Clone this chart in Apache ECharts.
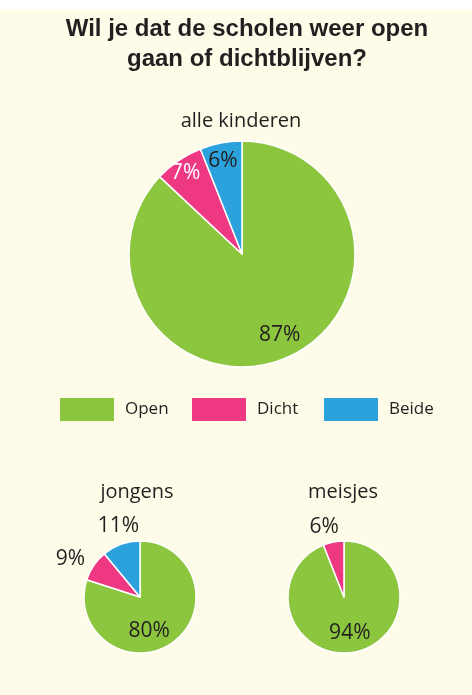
<!DOCTYPE html>
<html>
<head>
<meta charset="utf-8">
<script src="https://cdn.jsdelivr.net/npm/echarts@6/dist/echarts.min.js"></script>
<style>
  html, body { margin: 0; padding: 0; background: #ffffff; }
  #chart { width: 472px; height: 695px; }
</style>
</head>
<body>
<div id="chart"></div>
<script>
// data
var categories = ['Open', 'Dicht', 'Beide'];
var alleKinderen = [87, 7, 6];
var jongens = [80, 9, 11];
var meisjes = [94, 6, 0];

var colorMap = { Open: '#8cc63f', Dicht: '#ef3882', Beide: '#2ca2dc' };
var textColor = '#231f20';
var sans = '"Open Sans", "Noto Sans", sans-serif';

// label shifts from the default inner spot (dx, dy)
var bigShift = [[14, 26], [-23, -32], [-8, -35]];
var jongensShift = [[-9, 9], [-44, -21], [-11, -42]];
var meisjesShift = [[0, 6], [-14, -40]];

function pieSeries(values, center, radius, shift, insideIdx) {
    var data = [];
    categories.forEach(function (c, i) {
        if (values[i] <= 0) return;
        var onPink = c === 'Dicht' && insideIdx.indexOf(i) >= 0;
        data.push({
            name: c,
            value: values[i],
            itemStyle: { color: colorMap[c] },
            label: { color: onPink ? '#ffffff' : textColor }
        });
    });
    return {
        type: 'pie',
        center: center,
        radius: radius,
        startAngle: 90,
        clockwise: true,
        silent: true,
        data: data,
        itemStyle: { borderColor: '#ffffff', borderWidth: 1.5 },
        label: {
            position: 'inside',
            formatter: '{c}%',
            fontFamily: sans,
            fontSize: 21
        },
        labelLine: { show: false },
        emphasis: { disabled: true },
        labelLayout: function (p) {
            var s = shift[p.dataIndex] || [0, 0];
            return { dx: s[0], dy: s[1] };
        }
    };
}

function legendAt(name, left) {
    return {
        data: [name],
        left: left,
        top: 398,
        padding: 0,
        icon: 'rect',
        itemWidth: 54,
        itemHeight: 23,
        selectedMode: false,
        itemStyle: { borderWidth: 0 },
        textStyle: {
            fontFamily: sans,
            fontSize: 17,
            color: textColor,
            padding: [0, 0, 0, 6]
        }
    };
}

function label(text, x, y, size, bold) {
    return {
        type: 'text',
        x: x,
        y: y,
        silent: true,
        style: {
            text: text,
            fill: textColor,
            font: (bold ? 'bold ' : '') + size + 'px ' + (bold ? '"Liberation Sans", Arial, sans-serif' : sans),
            textAlign: 'center',
            align: 'center',
            textVerticalAlign: 'middle',
            verticalAlign: 'middle'
        }
    };
}

var myChart = echarts.init(document.getElementById('chart'));
myChart.setOption({
    animation: false,
    backgroundColor: '#fefbe9',
    graphic: [
        { type: 'rect', shape: { x: 0, y: 0, width: 472, height: 9 }, style: { fill: '#ffffff' }, silent: true },
        label('Wil je dat de scholen weer open', 247, 29, 24, true),
        label('gaan of dichtblijven?', 247, 59, 24, true),
        label('alle kinderen', 241, 121, 20, false),
        label('jongens', 137, 492, 20, false),
        label('meisjes', 343, 492, 20, false)
    ],
    legend: [
        legendAt('Open', 60),
        legendAt('Dicht', 192),
        legendAt('Beide', 324)
    ],
    series: [
        pieSeries(alleKinderen, [242, 254], 113, bigShift, [0, 1, 2]),
        pieSeries(jongens, [140, 597], 56, jongensShift, [0]),
        pieSeries(meisjes, [344, 597], 56, meisjesShift, [0])
    ]
});
</script>
</body>
</html>
